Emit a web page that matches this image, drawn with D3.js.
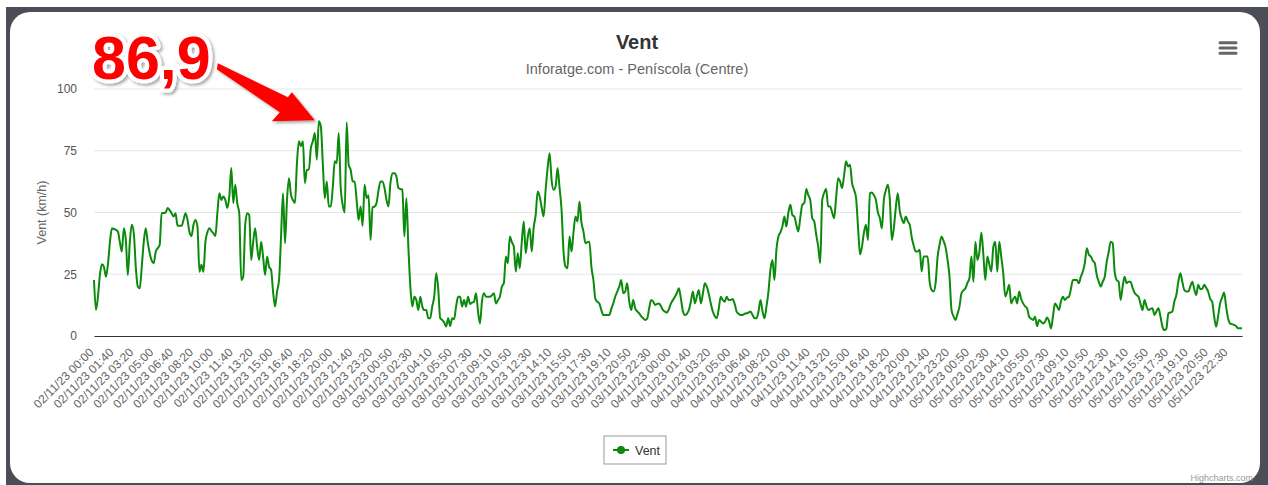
<!DOCTYPE html>
<html>
<head>
<meta charset="utf-8">
<script src="https://cdn.jsdelivr.net/npm/d3@7"></script>
<style>
body { margin: 0; background: #fff; font-family: "Liberation Sans", Arial, sans-serif; }
</style>
</head>
<body>
<div id="chart"></div>
<script>
// tick labels, one every 10 points
var tickLabels = [
	"02/11/23 00:00", "02/11/23 01:40", "02/11/23 03:20", "02/11/23 05:00", "02/11/23 06:40",
	"02/11/23 08:20", "02/11/23 10:00", "02/11/23 11:40", "02/11/23 13:20", "02/11/23 15:00",
	"02/11/23 16:40", "02/11/23 18:20", "02/11/23 20:00", "02/11/23 21:40", "02/11/23 23:20",
	"03/11/23 00:50", "03/11/23 02:30", "03/11/23 04:10", "03/11/23 05:50", "03/11/23 07:30",
	"03/11/23 09:10", "03/11/23 10:50", "03/11/23 12:30", "03/11/23 14:10", "03/11/23 15:50",
	"03/11/23 17:30", "03/11/23 19:10", "03/11/23 20:50", "03/11/23 22:30",
	"04/11/23 00:00", "04/11/23 01:40", "04/11/23 03:20", "04/11/23 05:00", "04/11/23 06:40",
	"04/11/23 08:20", "04/11/23 10:00", "04/11/23 11:40", "04/11/23 13:20", "04/11/23 15:00",
	"04/11/23 16:40", "04/11/23 18:20", "04/11/23 20:00", "04/11/23 21:40", "04/11/23 23:20",
	"05/11/23 00:50", "05/11/23 02:30", "05/11/23 04:10", "05/11/23 05:50", "05/11/23 07:30",
	"05/11/23 09:10", "05/11/23 10:50", "05/11/23 12:30", "05/11/23 14:10", "05/11/23 15:50",
	"05/11/23 17:30", "05/11/23 19:10", "05/11/23 20:50", "05/11/23 22:30"
];
var labelStep = 10;

// wind speed (km/h), every 10 minutes
var ventValues = [
	22.7, 10.5, 16, 25, 29, 28, 24, 29, 38, 43.6,
	43.3, 43, 42.3, 38, 34.2, 43.6, 39, 24.7, 38, 45,
	41.6, 28, 20, 19.3, 28, 38, 43.6, 38, 33.5, 30.5,
	29.5, 34, 35.5, 36.9, 49.7, 49.8, 50, 51.8, 51, 49.7,
	48.4, 49.7, 44.6, 44.6, 44.6, 47, 49.7, 47, 42, 40.5,
	45, 47, 44.3, 26, 28.8, 26, 38.2, 42, 43.6, 42.5,
	41.6, 40.5, 49.7, 57.8, 55.1, 56.5, 55.1, 51.8, 56.5, 68,
	53.8, 61.2, 53.8, 49.7, 22.7, 24, 45, 49.7, 49, 30.8,
	38, 43.6, 36, 30.8, 38.2, 32, 24.7, 32.2, 28, 26.8,
	18, 11.9, 18, 22.7, 40, 57.8, 37.6, 55, 63.9, 57.2,
	55, 53.8, 70, 78.8, 76.8, 78.8, 61.9, 67.3, 67.3, 76.1,
	78.8, 82.2, 71.4, 86.9, 84.9, 70, 55.8, 62.6, 52.4, 52.4,
	60, 70.7, 70, 82.2, 60, 53.1, 50, 86.5, 69.3, 67.3,
	62.6, 62.6, 55, 47, 52.4, 44.6, 61.2, 55.8, 57, 38.9,
	52, 52.4, 53.8, 59, 62.6, 62.6, 60, 55.1, 52.4, 62,
	65.9, 65.9, 64.6, 59.9, 59.5, 59.2, 40.3, 55.8, 36.2, 20,
	11.9, 15.9, 14.6, 10.5, 15.9, 12, 10.5, 10.5, 7.2, 7.2,
	12, 15.9, 25.4, 19.3, 7.2, 6.5, 5.5, 3.8, 7.2, 4,
	7.2, 6.8, 12, 15.9, 15.9, 11.9, 14.6, 11.9, 15.9, 13,
	13.5, 13.9, 17.3, 10, 5.1, 14, 17.3, 15.9, 15.9, 15.9,
	16.5, 17.3, 13.2, 14.5, 15.9, 20, 21.4, 32.2, 29.5, 40.3,
	38, 36.2, 26.1, 33.5, 27.4, 38, 46.4, 33.5, 40, 43.6,
	34.2, 44, 49, 58.5, 56.5, 52, 48.4, 59.2, 68, 74,
	63, 59.2, 60.5, 68, 60, 51.1, 34, 28.1, 27.4, 40.3,
	34.2, 42, 48.4, 46.4, 54.5, 46, 42.3, 37.6, 38, 38.2,
	28, 22.7, 15, 13.9, 13.2, 10.5, 8.5, 8.5, 8.5, 8.5,
	11, 13.2, 16, 18, 20, 22.7, 17.3, 18, 21.4, 14,
	10.5, 14.6, 11.2, 10, 9.2, 8, 7.2, 6.5, 7, 11,
	14.6, 14, 12.6, 13, 13.2, 12, 10.5, 9.9, 9.5, 11,
	13.2, 14.6, 15.9, 17.5, 19.3, 15, 10, 8.5, 9, 10.5,
	14, 18, 13.2, 16, 18.6, 13.2, 17, 21.4, 20, 17,
	13.2, 10, 8, 7.2, 11, 15.9, 14.6, 13.9, 15.9, 14.6,
	14.6, 15, 13, 9.9, 9, 8.5, 8.5, 9, 9.2, 9.5,
	9.9, 8.5, 7.2, 7.2, 10, 14.6, 10, 7.2, 12, 18,
	27, 30.8, 22.7, 35, 40.3, 42, 44.3, 48.4, 44.3, 50,
	53.1, 49, 48.4, 45, 42.3, 48, 53.1, 53.8, 59.5, 57,
	55.1, 47.7, 46.4, 41, 36.2, 29.5, 55, 58, 59.5, 52.4,
	52.4, 50, 47.7, 56, 63.9, 62.6, 59.9, 65, 70.7, 68.6,
	69.3, 62, 59.2, 56, 44.3, 33, 36.2, 42, 45, 38.9,
	57.8, 58.1, 57, 55.1, 50, 47.7, 43.6, 55.1, 59, 61.2,
	55.1, 38.9, 43.6, 52, 57.8, 50.5, 47.5, 45.7, 48.4, 46.5,
	45, 40, 36.5, 34.2, 34.2, 34.9, 26.1, 32.2, 32.2, 32.2,
	22, 18.6, 18, 21.4, 32, 37, 40.3, 38.5, 36, 30.8,
	24, 10.5, 8, 6.5, 9, 11.9, 17.3, 18.5, 19.3, 21.5,
	23.4, 32.2, 22, 38.2, 30.8, 34, 41.9, 33, 22.7, 32.2,
	29, 26.1, 36, 38.2, 26.1, 38.2, 32, 25.4, 16, 18,
	20.7, 13.2, 15, 15.9, 13.2, 18, 15, 13.2, 12, 11.2,
	7.8, 7, 6.5, 7.8, 4, 6.5, 5.8, 5.1, 5.8, 7.5,
	6, 3.1, 8, 13.2, 12, 10.5, 14, 15.9, 14.6, 15.5,
	15.9, 19, 22.7, 22.7, 22.7, 21.4, 24, 26.1, 29.5, 35.5,
	33, 32.2, 30.5, 29.5, 24.7, 22, 20, 22, 24, 30,
	34, 38.2, 37.6, 26, 22.7, 22, 14.6, 20, 24, 21.4,
	22, 22, 19.5, 17.5, 16.6, 15.9, 13, 10.5, 14.6, 12,
	10.5, 11, 11.2, 8.5, 10, 11.2, 8, 3.8, 2.4, 3,
	9.2, 9.5, 9.9, 14, 16.6, 22, 25.4, 22, 18.6, 18,
	18, 20, 22, 19, 16.6, 20.7, 19, 19, 20.7, 19.5,
	18, 15, 13.9, 8, 3.8, 8, 13.2, 15.5, 17.6, 12,
	7.2, 5.1, 4.8, 4.5, 4, 3.1, 3.1, 3.1
];

var yTicks = [0, 25, 50, 75, 100];
var peakIndex = 113;
var peakText = "86,9";

////////////////////////////////////////////////////////////////

var svgWidth = 1268,
	svgHeight = 485,
	margin = { top: 89, right: 26, bottom: 149, left: 94 },
	width = svgWidth - margin.left - margin.right,
	height = svgHeight - margin.top - margin.bottom;

var svg = d3.select("#chart").append("svg")
	.attr("width", svgWidth)
	.attr("height", svgHeight);

var defs = svg.append("defs");
defs.append("filter").attr("id", "shadow")
	.attr("x", "-20%").attr("y", "-20%").attr("width", "150%").attr("height", "150%")
	.append("feDropShadow")
	.attr("dx", 2).attr("dy", 2).attr("stdDeviation", 1.5)
	.attr("flood-color", "#000").attr("flood-opacity", 0.35);

// window frame + white rounded card
svg.append("rect").attr("x", 6).attr("y", 7).attr("width", 1262).attr("height", 480).attr("fill", "#4b4e56");
svg.append("rect").attr("x", 10).attr("y", 12).attr("width", 1250).attr("height", 471).attr("rx", 20).attr("fill", "#fff");

// title
svg.append("text").attr("x", 637).attr("y", 49)
	.attr("text-anchor", "middle").attr("font-size", 20).attr("font-weight", "bold").attr("fill", "#333")
	.text("Vent");
svg.append("text").attr("x", 637).attr("y", 74)
	.attr("text-anchor", "middle").attr("font-size", 14.5).attr("fill", "#666")
	.text("Inforatge.com - Peníscola (Centre)");

// menu icon
[42.7, 48, 53.3].forEach(function(yy) {
	svg.append("line").attr("x1", 1220).attr("x2", 1236).attr("y1", yy).attr("y2", yy)
		.attr("stroke", "#666").attr("stroke-width", 3).attr("stroke-linecap", "round");
});

var g = svg.append("g").attr("transform", "translate(" + margin.left + "," + margin.top + ")");

var x = d3.scaleLinear().domain([0, ventValues.length - 1]).range([0, width]);
var y = d3.scaleLinear().domain([0, 100]).range([height, 0]);

// grid
g.selectAll(".grid").data(yTicks.filter(function(d) { return d > 0; }))
	.enter().append("line")
	.attr("x1", 0).attr("x2", width)
	.attr("y1", function(d) { return y(d); }).attr("y2", function(d) { return y(d); })
	.attr("stroke", "#e6e6e6").attr("stroke-width", 1);

// y axis
var yAxis = g.append("g")
	.call(d3.axisLeft(y).tickValues(yTicks).tickSize(0).tickPadding(17));
yAxis.select(".domain").remove();
yAxis.selectAll("text").attr("font-size", 12).attr("fill", "#555").attr("font-family", "Liberation Sans, Arial, sans-serif");

svg.append("text")
	.attr("transform", "translate(46," + (margin.top + height / 2) + ") rotate(-90)")
	.attr("text-anchor", "middle").attr("font-size", 12.5).attr("fill", "#666")
	.text("Vent (km/h)");

// x axis
var xAxis = g.append("g").attr("transform", "translate(0," + height + ")")
	.call(d3.axisBottom(x)
		.tickValues(tickLabels.map(function(d, i) { return i * labelStep; }))
		.tickFormat(function(d) { return tickLabels[d / labelStep]; })
		.tickSize(0).tickSizeOuter(0));
xAxis.select(".domain").attr("stroke", "#333").attr("stroke-width", 1);
xAxis.selectAll("text")
	.attr("y", 0).attr("dy", 0)
	.attr("text-anchor", "end")
	.attr("transform", "translate(0,17) rotate(-45)")
	.attr("font-size", 12).attr("fill", "#666").attr("font-family", "Liberation Sans, Arial, sans-serif");

// series
g.append("path")
	.datum(ventValues)
	.attr("fill", "none")
	.attr("stroke", "#0b8a0b")
	.attr("stroke-width", 2)
	.attr("stroke-linejoin", "round")
	.attr("d", d3.line()
		.curve(d3.curveMonotoneX)
		.x(function(d, i) { return x(i); })
		.y(function(d) { return y(d); }));

// annotation: big label + arrow pointing at the peak
var tipX = margin.left + x(peakIndex) - 4,
	tipY = margin.top + y(ventValues[peakIndex]) - 1;
var arrowPts = [[0, 0], [-23, -28], [-27, -23], [-97, -57], [-98, -51], [-35, -8], [-43, 1]];
svg.append("polygon")
	.attr("points", arrowPts.map(function(p) { return (tipX + p[0]) + "," + (tipY + p[1]); }).join(" "))
	.attr("fill", "#ff0000")
	.attr("filter", "url(#shadow)");

svg.append("text")
	.attr("x", 92).attr("y", 79)
	.attr("font-size", 61).attr("font-weight", "bold")
	.attr("fill", "#ff0000").attr("stroke", "#fff").attr("stroke-width", 8)
	.attr("stroke-linejoin", "round").attr("paint-order", "stroke")
	.attr("filter", "url(#shadow)")
	.text(peakText);

// legend
var leg = svg.append("g").attr("transform", "translate(604,436)");
leg.append("rect").attr("width", 62).attr("height", 28)
	.attr("fill", "#fff").attr("stroke", "#999").attr("stroke-width", 1);
leg.append("line").attr("x1", 9).attr("x2", 25).attr("y1", 14).attr("y2", 14)
	.attr("stroke", "#0b8a0b").attr("stroke-width", 2);
leg.append("circle").attr("cx", 17).attr("cy", 14).attr("r", 4).attr("fill", "#0b8a0b");
leg.append("text").attr("x", 31).attr("y", 18.5)
	.attr("font-size", 12.5).attr("fill", "#333").text("Vent");

// credits
svg.append("text").attr("x", 1253).attr("y", 481)
	.attr("text-anchor", "end").attr("font-size", 9).attr("fill", "#999")
	.text("Highcharts.com");
</script>
</body>
</html>
